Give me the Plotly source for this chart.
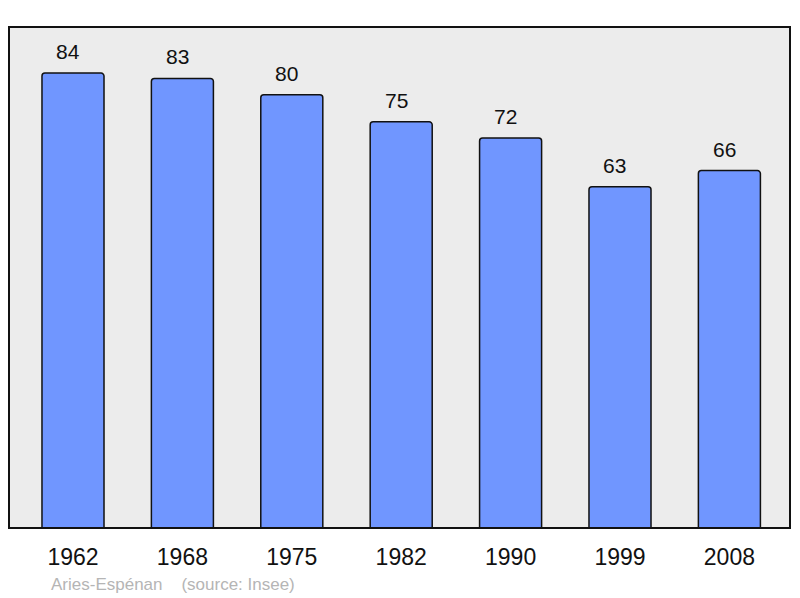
import plotly.graph_objects as go

years = ["1962", "1968", "1975", "1982", "1990", "1999", "2008"]
population = [84, 83, 80, 75, 72, 63, 66]
source_text = "Aries-Espénan    (source: Insee)"

xs = list(range(len(years)))

fig = go.Figure()
fig.add_trace(go.Bar(
    x=xs, y=population, width=0.567,
    marker=dict(color="#7096ff", line=dict(color="#111111", width=1.5), cornerradius=3),
    hoverinfo="skip",
))

for x, v in zip(xs, population):
    fig.add_annotation(x=x, y=v, text=str(v), showarrow=False, yanchor="bottom",
                       xshift=-5, yshift=8,
                       font=dict(family="Liberation Sans, Arial", size=21, color="#111111"))

fig.add_annotation(xref="paper", yref="paper", x=(49 - 9) / 781, y=-(584 - 528) / 501,
                   xanchor="left", yanchor="middle", text=source_text.replace(" ", "&nbsp;"),
                   showarrow=False, font=dict(family="Liberation Sans, Arial", size=17, color="#b5b5b5"))

fig.add_shape(type="rect", xref="paper", yref="paper", x0=0, x1=1, y0=0, y1=1,
              line=dict(color="#111111", width=2), layer="above")

# page body has an 8px margin; compensate so the plot lands where the reference has it
fig.update_layout(
    width=792, height=590,
    margin=dict(l=1, r=10, t=19, b=70),
    paper_bgcolor="white", plot_bgcolor="#ececec",
    showlegend=False,
    font=dict(family="Liberation Sans, Arial", color="#111111"),
    xaxis=dict(range=[-0.585, 6.554], tickmode="array", tickvals=xs, ticktext=years,
               showgrid=False, zeroline=False, showline=False, ticks="",
               tickfont=dict(size=23), ticklabelstandoff=13, fixedrange=True),
    yaxis=dict(range=[0, 92.5], showgrid=False, zeroline=False, showline=False,
               showticklabels=False, ticks="", fixedrange=True),
)

fig.write_html("out.html")
